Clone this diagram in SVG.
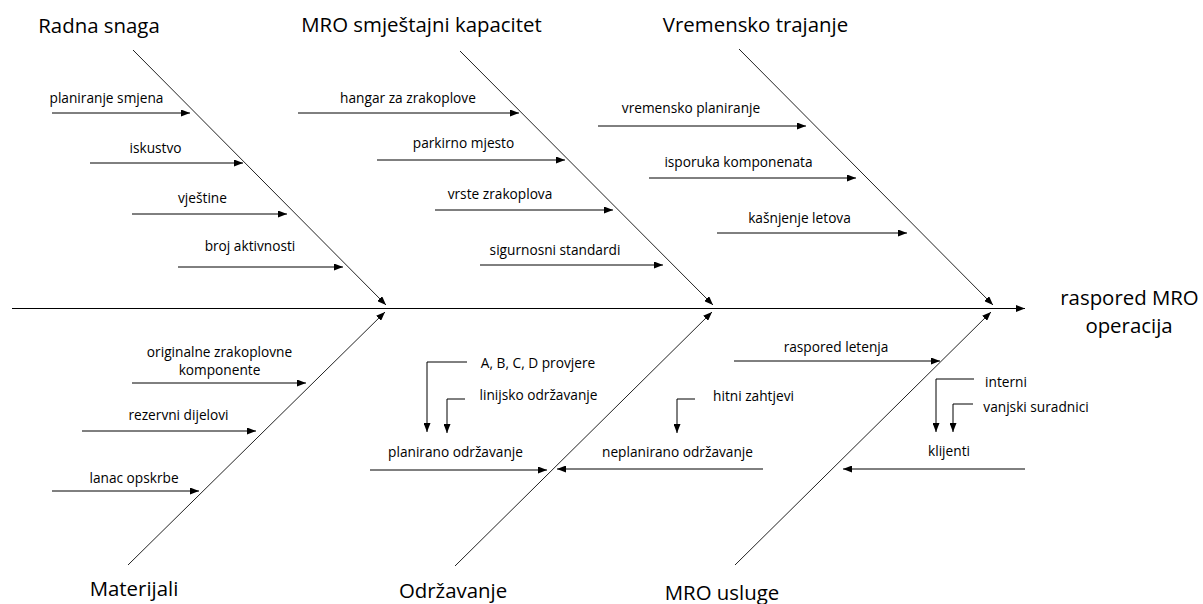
<svg xmlns="http://www.w3.org/2000/svg" width="1203" height="604" viewBox="0 0 1203 604">
<defs>
<marker id="ah" viewBox="0 0 9 7" markerUnits="userSpaceOnUse" markerWidth="9" markerHeight="7" refX="9" refY="3.5" orient="auto">
<path d="M0,0 L9,3.5 L0,7 z" fill="#000"/>
</marker>
<style>
.t{font-family:"Open Sans","Liberation Sans",sans-serif;font-size:20.4px;fill:#000;text-anchor:middle}
.s{font-family:"Open Sans","Liberation Sans",sans-serif;font-size:13.7px;fill:#000;text-anchor:middle}
.bone{stroke:#222;stroke-width:1;fill:none;marker-end:url(#ah)}
.arr{stroke:#000;stroke-width:1;fill:none;marker-end:url(#ah)}
</style>
</defs>
<rect width="1203" height="604" fill="#fff"/>
<g id="connectors">
<line class="arr" x1="12" y1="308.5" x2="1025" y2="308.5"/>
<line class="bone" x1="133" y1="50" x2="386" y2="305"/>
<line class="bone" x1="460" y1="51" x2="713" y2="305"/>
<line class="bone" x1="739" y1="49" x2="993" y2="305"/>
<line class="bone" x1="128" y1="565" x2="385" y2="312"/>
<line class="bone" x1="455" y1="566" x2="712" y2="312"/>
<line class="bone" x1="735" y1="565" x2="991" y2="312"/>
<line class="arr" x1="52" y1="113" x2="190" y2="113"/>
<line class="arr" x1="90" y1="163" x2="243" y2="163"/>
<line class="arr" x1="132" y1="214" x2="287" y2="214"/>
<line class="arr" x1="178" y1="267" x2="343" y2="267"/>
<line class="arr" x1="298" y1="113" x2="519" y2="113"/>
<line class="arr" x1="377" y1="160" x2="565" y2="160"/>
<line class="arr" x1="435" y1="210" x2="613" y2="210"/>
<line class="arr" x1="480" y1="265" x2="663" y2="265"/>
<line class="arr" x1="598" y1="126" x2="806" y2="126"/>
<line class="arr" x1="649" y1="178" x2="856" y2="178"/>
<line class="arr" x1="717" y1="233" x2="907" y2="233"/>
<line class="arr" x1="132" y1="383" x2="306" y2="383"/>
<line class="arr" x1="82" y1="431" x2="256" y2="431"/>
<line class="arr" x1="52" y1="491" x2="199" y2="491"/>
<line class="arr" x1="370" y1="470" x2="547" y2="470"/>
<line class="arr" x1="763" y1="469" x2="557" y2="469"/>
<path class="arr" d="M467,362 H427 V432"/>
<path class="arr" d="M465,399 H447 V433"/>
<path class="arr" d="M695,399 H677 V433"/>
<line class="arr" x1="734" y1="361" x2="940" y2="361"/>
<path class="arr" d="M974,379 H936 V432"/>
<path class="arr" d="M973,404 H953 V432"/>
<line class="arr" x1="1025" y1="469" x2="843" y2="469"/>
</g>
<g id="effect"><text class="t" x="1129.5" y="305">raspored MRO</text><text class="t" x="1129" y="333">operacija</text></g>
<g id="radna-snaga">
<text class="t" x="99" y="33">Radna snaga</text>
<text class="s" x="106.5" y="103">planiranje smjena</text>
<text class="s" x="155.5" y="153">iskustvo</text>
<text class="s" x="202.5" y="203">vještine</text>
<text class="s" x="250" y="251">broj aktivnosti</text>
</g>
<g id="mro-smjestajni-kapacitet">
<text class="t" x="421.5" y="32">MRO smještajni kapacitet</text>
<text class="s" x="408" y="103">hangar za zrakoplove</text>
<text class="s" x="463.5" y="148">parkirno mjesto</text>
<text class="s" x="500" y="199">vrste zrakoplova</text>
<text class="s" x="555" y="255">sigurnosni standardi</text>
</g>
<g id="vremensko-trajanje">
<text class="t" x="755.5" y="32">Vremensko trajanje</text>
<text class="s" x="691" y="113">vremensko planiranje</text>
<text class="s" x="738.5" y="167">isporuka komponenata</text>
<text class="s" x="799.5" y="223">kašnjenje letova</text>
</g>
<g id="materijali">
<text class="t" x="134" y="596">Materijali</text>
<text class="s" x="219.5" y="357">originalne zrakoplovne</text>
<text class="s" x="219.5" y="375">komponente</text>
<text class="s" x="178.5" y="420">rezervni dijelovi</text>
<text class="s" x="134" y="483">lanac opskrbe</text>
</g>
<g id="odrzavanje">
<text class="t" x="453" y="598">Održavanje</text>
<text class="s" x="538" y="368">A, B, C, D provjere</text>
<text class="s" x="538.5" y="400">linijsko održavanje</text>
<text class="s" x="455.5" y="457">planirano održavanje</text>
<text class="s" x="677.5" y="457">neplanirano održavanje</text>
<text class="s" x="753.5" y="401">hitni zahtjevi</text>
</g>
<g id="mro-usluge">
<text class="t" x="722" y="600">MRO usluge</text>
<text class="s" x="836" y="352">raspored letenja</text>
<text class="s" x="1006" y="387">interni</text>
<text class="s" x="1036" y="412">vanjski suradnici</text>
<text class="s" x="949" y="456">klijenti</text>
</g>
</svg>
